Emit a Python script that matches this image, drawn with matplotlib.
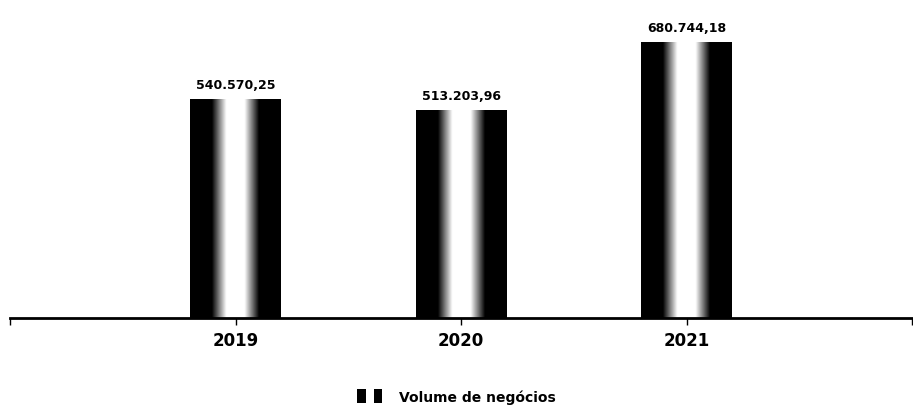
import numpy as np
import matplotlib.pyplot as plt
from matplotlib.legend_handler import HandlerBase
from matplotlib.patches import Rectangle

# Data
anos = ["2019", "2020", "2021"]
volume = [540570.25, 513203.96, 680744.18]
rotulos = ["540.570,25", "513.203,96", "680.744,18"]


def fmt_label(v):
    return rotulos[volume.index(v)]


class TwoBlocks(HandlerBase):
    # legend key: two small dark blocks, like the scanned original
    def create_artists(self, legend, orig_handle, xd, yd, w, h, fontsize, trans):
        a = Rectangle((xd, yd - h * 0.15), w * 0.3, h * 1.3, facecolor="black", transform=trans)
        b = Rectangle((xd + w * 0.6, yd - h * 0.15), w * 0.3, h * 1.3, facecolor="black", transform=trans)
        return [a, b]


fig = plt.figure(figsize=(9.13, 4.16), dpi=100)
ax = fig.add_axes([0.011, 0.236, 0.988, 0.74])

x = np.arange(1, len(anos) + 1)
bars = ax.bar(x, volume, width=0.4, color="none", edgecolor="none", zorder=2)

# cylinder-like shading: black edges, white centre
u = np.linspace(0, 1, 200)
prof = np.clip((0.5 - np.abs(u - 0.5)) / 0.5, 0, 1)
prof = np.clip((prof - 0.48) / 0.32, 0, 1)
grad = np.tile(prof, (60, 1))
for b in bars:
    x0, y0 = b.get_x(), b.get_y()
    im = ax.imshow(grad, cmap="gray", vmin=0, vmax=1, aspect="auto",
                   extent=[x0, x0 + b.get_width(), y0, y0 + b.get_height()],
                   interpolation="bilinear", zorder=2)
    im.set_clip_path(b)
    ax.text(b.get_x() + b.get_width() / 2, b.get_height() + 18000,
            fmt_label(b.get_height()), ha="center", va="bottom",
            fontsize=9, fontweight="bold", family="DejaVu Sans Condensed")

ax.set_xlim(0, 4)
ax.set_ylim(0, 760000)
ax.set_xticks([0, 1, 2, 3, 4])
ax.set_xticklabels([""] + anos + [""], fontsize=12, fontweight="bold",
                   family="DejaVu Sans Condensed")
ax.tick_params(axis="x", direction="out", length=5, width=1, pad=5)
ax.set_yticks([])
for s in ["top", "right", "left"]:
    ax.spines[s].set_visible(False)
ax.spines["bottom"].set_linewidth(2)

leg = fig.legend([Rectangle((0, 0), 1, 1)], ["Volume de negócios"],
                 handler_map={Rectangle: TwoBlocks()},
                 loc="center", bbox_to_anchor=(0.5, 0.045), frameon=False,
                 handlelength=2.0, handleheight=0.8, handletextpad=1.0,
                 prop={"size": 10, "weight": "bold", "family": "DejaVu Sans Condensed"})

fig.savefig("out.png", dpi=100)
